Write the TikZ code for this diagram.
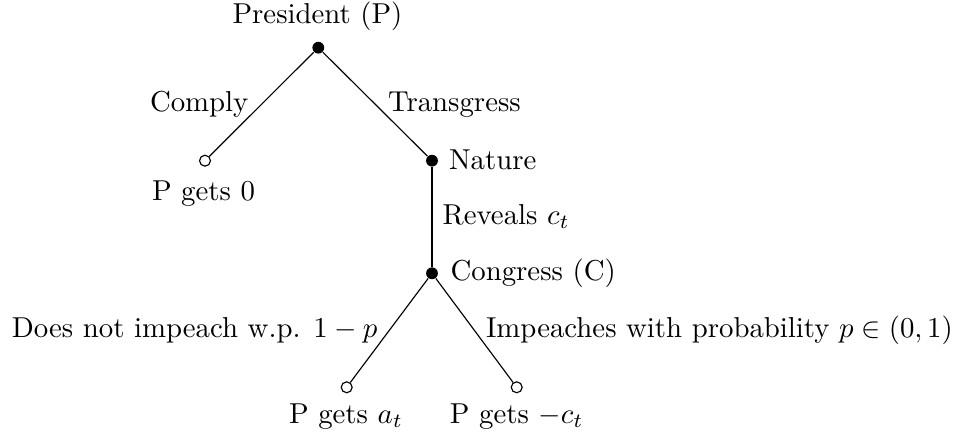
\documentclass[tikz,border=0pt]{standalone}
\begin{document}
\begin{tikzpicture}[x=0.34722pt,y=-0.34722pt,
  dot/.style={circle,fill=black,inner sep=0pt,minimum size=4.1pt},
  leaf/.style={circle,draw=black,fill=white,inner sep=0pt,minimum size=3.8pt,line width=0.4pt},
  txt/.style={inner sep=0pt,font=\normalsize},
  edgeline/.style={draw=black,line width=0.4pt}]
\useasboundingbox (0,0) rectangle (958,440);
% game tree nodes
\node[dot]  (P)  at (318.3,47.7)  {};
\node[leaf] (L0) at (205,160.7)   {};
\node[dot]  (N)  at (432,160.7)   {};
\node[dot]  (C)  at (432,273.3)   {};
\node[leaf] (La) at (346.7,387.3) {};
\node[leaf] (Lc) at (516.7,387.3) {};
% connectors
\draw[edgeline] (P) -- (L0);
\draw[edgeline] (P) -- (N);
\draw[edgeline] (N) -- (C);
\draw[edgeline] (C) -- (La);
\draw[edgeline] (C) -- (Lc);
% texts
\node[txt,anchor=base]       (tP)      at (317.5,24)    {President (P)};
\node[txt,anchor=base east]  (tComply) at (249,111.7)   {Comply};
\node[txt,anchor=base west]  (tTrans)  at (387.5,111.7) {Transgress};
\node[txt,anchor=base west]  (tNature) at (448.5,170)   {Nature};
\node[txt,anchor=base]       (t0)      at (203.5,200.7) {P gets 0};
\node[txt,anchor=base west]  (tRev)    at (442,224.3)   {Reveals $c_t$};
\node[txt,anchor=base west]  (tCong)   at (450,280.5)   {Congress (C)};
\node[txt,anchor=base east]  (tNot)    at (378,337.5)   {Does not impeach w.p. $1-p$};
\node[txt,anchor=base west]  (tImp)    at (485.5,337.5) {Impeaches with probability $p\in(0,1)$};
\node[txt,anchor=base]       (ta)      at (346,423.3)   {P gets $a_t$};
\node[txt,anchor=base]       (tc)      at (516.7,423.3) {P gets $-c_t$};
\end{tikzpicture}
\end{document}
